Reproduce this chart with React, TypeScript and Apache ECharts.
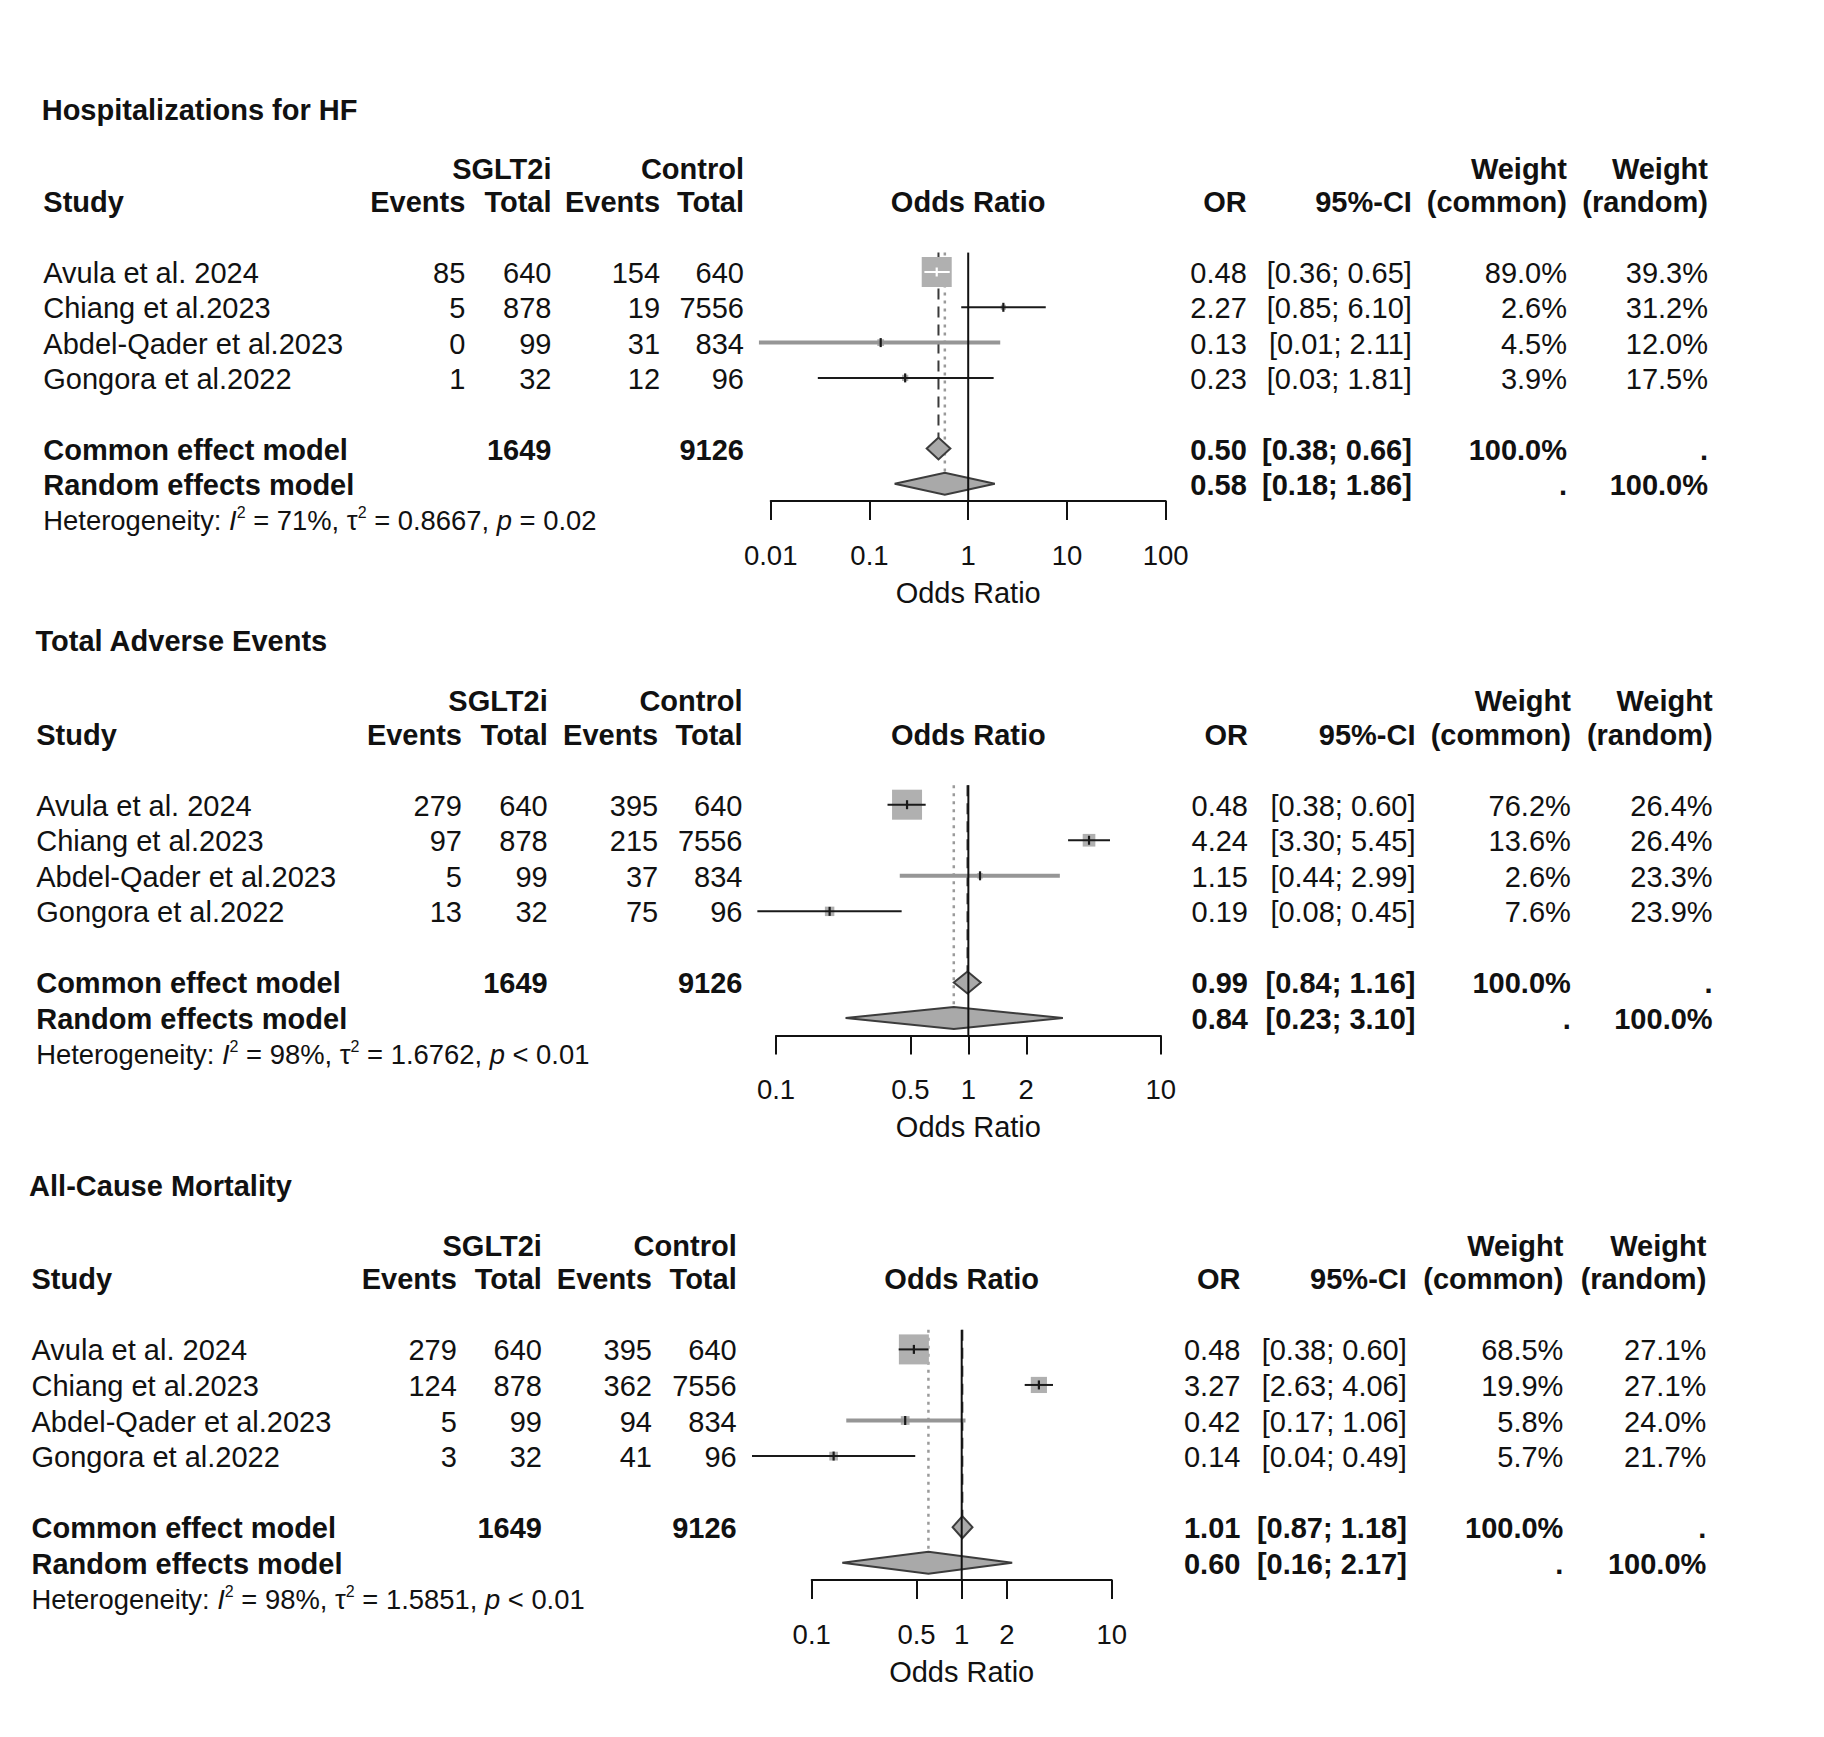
import React, { useEffect, useRef } from "react";
import * as echarts from "echarts";

// ---------------- data ----------------
const studies = ["Avula et al. 2024", "Chiang et al.2023", "Abdel-Qader et al.2023", "Gongora et al.2022"];

// Hospitalizations for HF
const hfEventsSglt = [85, 5, 0, 1];
const hfTotalSglt = [640, 878, 99, 32];
const hfEventsCtrl = [154, 19, 31, 12];
const hfTotalCtrl = [640, 7556, 834, 96];
const hfOR = [0.48, 2.27, 0.13, 0.23];
const hfLower = [0.36, 0.85, 0.0076, 0.03];
const hfUpper = [0.65, 6.1, 2.11, 1.81];
const hfWeightCommon = [89.0, 2.6, 4.5, 3.9];
const hfWeightRandom = [39.3, 31.2, 12.0, 17.5];
const hfModelOR = [0.5, 0.58];
const hfModelLower = [0.38, 0.18];
const hfModelUpper = [0.66, 1.86];
const hfHet = ["71%", "0.8667", "= 0.02"];
const hfTicks = [0.01, 0.1, 1, 10, 100];

// Total Adverse Events
const aeEventsSglt = [279, 97, 5, 13];
const aeTotalSglt = [640, 878, 99, 32];
const aeEventsCtrl = [395, 215, 37, 75];
const aeTotalCtrl = [640, 7556, 834, 96];
const aeOR = [0.48, 4.24, 1.15, 0.19];
const aeLower = [0.38, 3.3, 0.44, 0.08];
const aeUpper = [0.6, 5.45, 2.99, 0.45];
const aeWeightCommon = [76.2, 13.6, 2.6, 7.6];
const aeWeightRandom = [26.4, 26.4, 23.3, 23.9];
const aeModelOR = [0.99, 0.84];
const aeModelLower = [0.84, 0.23];
const aeModelUpper = [1.16, 3.1];
const aeHet = ["98%", "1.6762", "< 0.01"];
const aeTicks = [0.1, 0.5, 1, 2, 10];

// All-Cause Mortality
const mEventsSglt = [279, 124, 5, 3];
const mTotalSglt = [640, 878, 99, 32];
const mEventsCtrl = [395, 362, 94, 41];
const mTotalCtrl = [640, 7556, 834, 96];
const mOR = [0.48, 3.27, 0.42, 0.14];
const mLower = [0.38, 2.63, 0.17, 0.04];
const mUpper = [0.6, 4.06, 1.06, 0.49];
const mWeightCommon = [68.5, 19.9, 5.8, 5.7];
const mWeightRandom = [27.1, 27.1, 24.0, 21.7];
const mModelOR = [1.01, 0.6];
const mModelLower = [0.87, 0.16];
const mModelUpper = [1.18, 2.17];
const mHet = ["98%", "1.5851", "< 0.01"];
const mTicks = [0.1, 0.5, 1, 2, 10];

const panels = [
  {
    title: "Hospitalizations for HF", evT: hfEventsSglt, totT: hfTotalSglt, evC: hfEventsCtrl, totC: hfTotalCtrl,
    or: hfOR, lo: hfLower, hi: hfUpper, wC: hfWeightCommon, wR: hfWeightRandom,
    mOR: hfModelOR, mLo: hfModelLower, mHi: hfModelUpper, het: hfHet, ticks: hfTicks,
  },
  {
    title: "Total Adverse Events", evT: aeEventsSglt, totT: aeTotalSglt, evC: aeEventsCtrl, totC: aeTotalCtrl,
    or: aeOR, lo: aeLower, hi: aeUpper, wC: aeWeightCommon, wR: aeWeightRandom,
    mOR: aeModelOR, mLo: aeModelLower, mHi: aeModelUpper, het: aeHet, ticks: aeTicks,
  },
  {
    title: "All-Cause Mortality", evT: mEventsSglt, totT: mTotalSglt, evC: mEventsCtrl, totC: mTotalCtrl,
    or: mOR, lo: mLower, hi: mUpper, wC: mWeightCommon, wR: mWeightRandom,
    mOR: mModelOR, mLo: mModelLower, mHi: mModelUpper, het: mHet, ticks: mTicks,
  },
];

// ---------------- layout ----------------
const layouts = [
  { y0: 272, pitch: 35.3, titleX: 41.7, studyX: 43.3, cols: [465.3, 551.5, 660.1, 744], plotL: 770.7, plotR: 1165.7, right: [1246.8, 1411.9, 1567, 1708] },
  { y0: 804.7, pitch: 35.55, titleX: 35.5, studyX: 36.2, cols: [462, 547.7, 658.2, 742.5], plotL: 776, plotR: 1160.7, right: [1248, 1415.5, 1570.8, 1712.6] },
  { y0: 1349.4, pitch: 35.55, titleX: 29.1, studyX: 31.5, cols: [456.8, 541.9, 651.9, 736.7], plotL: 811.7, plotR: 1111.7, right: [1240.4, 1406.8, 1563.4, 1706.3] },
];

const FONT = "'Liberation Sans', Arial, Helvetica, sans-serif";
const INK = "#111111";
const BOX = "#b0b0b0";
const DIAMOND = "#a9a9a9";
const FS = 29;
const TITLE_ROW = -4.63;
const HEAD1_ROW = -2.95;
const HEAD2_ROW = -2.0;
const COMMON_ROW = 5;
const RANDOM_ROW = 6;
const AXIS_ROW = 6.49;
const HET_ROW = 7.0;
const TOP_ROW = -0.55;
const DH = 11; // diamond half height
const MAXBOX = 30;

const fmtTick = (v: number) => String(parseFloat(Math.pow(10, v).toPrecision(3)));
const ci = (a: number, b: number) => `[${a.toFixed(2)}; ${b.toFixed(2)}]`;
const pct = (w: number) => `${w.toFixed(1)}%`;
const sum = (a: number[]) => a.reduce((s, v) => s + v, 0);

function makeRender(p: any, L: any) {
  return (_params: any, api: any) => {
    const X = (v: number) => api.coord([Math.log10(v), 0])[0];
    const Y = (r: number) => api.coord([0, r])[1];
    const kids: any[] = [];
    const T = (text: string, x: number, r: number, align: string, o: any = {}) => {
      const style: any = {
        text, x: 0, y: 0, fill: INK, fontFamily: FONT, fontSize: o.size ?? FS,
        fontWeight: o.bold ? "bold" : "normal", align, textAlign: align,
        verticalAlign: "middle", textVerticalAlign: "middle",
      };
      if (o.rich) { style.rich = o.rich; style.lineHeight = o.lineHeight; }
      kids.push({ type: "text", x, y: Y(r) + 1, scaleX: o.sx ?? 1, silent: true, style });
    };
    const R = L.right;
    const C = L.cols;

    // title and headers
    T(p.title, L.titleX, TITLE_ROW, "left", { bold: true });
    T("SGLT2i", C[1], HEAD1_ROW, "right", { bold: true });
    T("Control", C[3], HEAD1_ROW, "right", { bold: true });
    T("Weight", R[2], HEAD1_ROW, "right", { bold: true });
    T("Weight", R[3], HEAD1_ROW, "right", { bold: true });
    T("Study", L.studyX, HEAD2_ROW, "left", { bold: true });
    T("Events", C[0], HEAD2_ROW, "right", { bold: true });
    T("Total", C[1], HEAD2_ROW, "right", { bold: true });
    T("Events", C[2], HEAD2_ROW, "right", { bold: true });
    T("Total", C[3], HEAD2_ROW, "right", { bold: true });
    T("Odds Ratio", X(1), HEAD2_ROW, "center", { bold: true });
    T("OR", R[0], HEAD2_ROW, "right", { bold: true });
    T("95%-CI", R[1], HEAD2_ROW, "right", { bold: true });
    T("(common)", R[2], HEAD2_ROW, "right", { bold: true });
    T("(random)", R[3], HEAD2_ROW, "right", { bold: true });

    // study rows
    studies.forEach((s, i) => {
      T(s, L.studyX, i, "left");
      T(String(p.evT[i]), C[0], i, "right");
      T(String(p.totT[i]), C[1], i, "right");
      T(String(p.evC[i]), C[2], i, "right");
      T(String(p.totC[i]), C[3], i, "right");
      T(p.or[i].toFixed(2), R[0], i, "right");
      T(ci(p.lo[i], p.hi[i]), R[1], i, "right");
      T(pct(p.wC[i]), R[2], i, "right");
      T(pct(p.wR[i]), R[3], i, "right");
    });

    // model rows
    T("Common effect model", L.studyX, COMMON_ROW, "left", { bold: true });
    T(String(sum(p.totT)), C[1], COMMON_ROW, "right", { bold: true });
    T(String(sum(p.totC)), C[3], COMMON_ROW, "right", { bold: true });
    T(p.mOR[0].toFixed(2), R[0], COMMON_ROW, "right", { bold: true });
    T(ci(p.mLo[0], p.mHi[0]), R[1], COMMON_ROW, "right", { bold: true });
    T("100.0%", R[2], COMMON_ROW, "right", { bold: true });
    T(".", R[3], COMMON_ROW, "right", { bold: true });
    T("Random effects model", L.studyX, RANDOM_ROW, "left", { bold: true });
    T(p.mOR[1].toFixed(2), R[0], RANDOM_ROW, "right", { bold: true });
    T(ci(p.mLo[1], p.mHi[1]), R[1], RANDOM_ROW, "right", { bold: true });
    T(".", R[2], RANDOM_ROW, "right", { bold: true });
    T("100.0%", R[3], RANDOM_ROW, "right", { bold: true });

    // heterogeneity
    const hetText = `Heterogeneity: {it|I}{sup|2} = ${p.het[0]}, τ{sup|2} = ${p.het[1]}, {it|p} ${p.het[2]}`;
    T(hetText, L.studyX, HET_ROW, "left", {
      size: 27.4, lineHeight: 32,
      rich: {
        it: { fontStyle: "italic", fontSize: 27.4, lineHeight: 32, fontFamily: FONT, fill: INK },
        sup: { fontSize: 16, lineHeight: 21, verticalAlign: "top", fontFamily: FONT, fill: INK },
      },
    });

    // reference lines for pooled estimates
    const yTop = Y(TOP_ROW);
    const xc = X(p.mOR[0]);
    const xr = X(p.mOR[1]);
    kids.push({ type: "line", silent: true, shape: { x1: xr, y1: yTop, x2: xr, y2: Y(RANDOM_ROW) - DH }, style: { stroke: "#9a9a9a", lineWidth: 2.5, lineDash: [3, 5] } });
    kids.push({ type: "line", silent: true, shape: { x1: xc, y1: yTop, x2: xc, y2: Y(COMMON_ROW) - DH }, style: { stroke: "#3a3a3a", lineWidth: 2, lineDash: [11, 7] } });

    // squares + CIs
    const wmax = Math.max(...p.wC);
    studies.forEach((_s, i) => {
      const cx = X(p.or[i]);
      const cy = Y(i);
      const side = MAXBOX * Math.sqrt(p.wC[i] / wmax);
      kids.push({ type: "rect", silent: true, shape: { x: cx - side / 2, y: cy - side / 2, width: side, height: side }, style: { fill: BOX } });
      const x1 = X(p.lo[i]);
      const x2 = X(p.hi[i]);
      const inside = x1 > cx - side / 2 && x2 < cx + side / 2;
      const soft = i === 2 && !inside;
      const col = inside ? "#ffffff" : soft ? "#969696" : "#1a1a1a";
      kids.push({ type: "line", silent: true, shape: { x1, y1: cy, x2, y2: cy }, style: { stroke: col, lineWidth: soft ? 4 : 2 } });
      kids.push({ type: "line", silent: true, shape: { x1: cx, y1: cy - 4.5, x2: cx, y2: cy + 4.5 }, style: { stroke: inside ? "#ffffff" : "#1a1a1a", lineWidth: 2.2 } });
    });

    // diamonds
    [COMMON_ROW, RANDOM_ROW].forEach((row, k) => {
      const cy = Y(row);
      const pts = [[X(p.mLo[k]), cy], [X(p.mOR[k]), cy - DH], [X(p.mHi[k]), cy], [X(p.mOR[k]), cy + DH]];
      kids.push({ type: "polygon", silent: true, shape: { points: pts }, style: { fill: DIAMOND, stroke: "#3c3c3c", lineWidth: 2 } });
    });

    // line of no effect
    const x1 = X(1);
    kids.push({ type: "line", silent: true, shape: { x1, y1: yTop, x2: x1, y2: Y(AXIS_ROW) }, style: { stroke: INK, lineWidth: 2 } });

    return { type: "group", children: kids };
  };
}

function buildOption(): any {
  return {
    animation: false,
    backgroundColor: "#ffffff",
    grid: layouts.map((L) => ({
      left: L.plotL, top: L.y0 - L.pitch, width: L.plotR - L.plotL, height: L.pitch * (AXIS_ROW + 1),
      containLabel: false, outerBoundsMode: "none",
    })),
    xAxis: panels.map((p, i) => {
      const vals = p.ticks.map((t) => Math.log10(t));
      return {
        type: "value", gridIndex: i, position: "bottom",
        min: vals[0], max: vals[vals.length - 1],
        axisLine: { show: true, onZero: false, lineStyle: { color: INK, width: 2 } },
        axisTick: { show: true, length: 19, customValues: vals, lineStyle: { color: INK, width: 2 } },
        axisLabel: { customValues: vals, formatter: fmtTick, margin: 40, fontSize: 27.5, color: INK, fontFamily: FONT },
        splitLine: { show: false },
        name: "Odds Ratio", nameLocation: "middle", nameGap: 77,
        nameTextStyle: { fontSize: 29, color: INK, fontFamily: FONT },
      };
    }),
    yAxis: panels.map((_p, i) => ({ type: "value", gridIndex: i, min: -1, max: AXIS_ROW, inverse: true, show: false })),
    series: panels.map((p, i) => ({
      type: "custom", xAxisIndex: i, yAxisIndex: i, silent: true, clip: false,
      data: [[0, 0]], renderItem: makeRender(p, layouts[i]),
    })),
  };
}

export default function App() {
  const ref = useRef<HTMLDivElement>(null);
  useEffect(() => {
    const chart = echarts.init(ref.current as HTMLDivElement, null, { renderer: "svg" });
    chart.setOption(buildOption());
    return () => chart.dispose();
  }, []);
  return (
    <div
      ref={ref}
      style={{ position: "absolute", left: 0, top: 0, width: 1824, height: 1737, background: "#ffffff" }}
    />
  );
}
